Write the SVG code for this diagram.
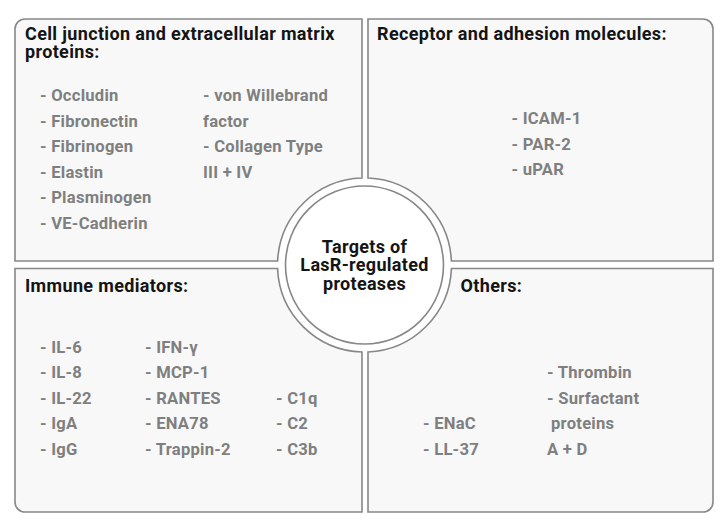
<svg xmlns="http://www.w3.org/2000/svg" width="728" height="529" viewBox="0 0 728 529">
<style>
.panel{fill:#f8f8f8;stroke:#878787;stroke-width:1.6}
.hub{fill:#ffffff;stroke:#878787;stroke-width:1.6}
.h{font-family:Roboto,"Liberation Sans",sans-serif;font-weight:bold;font-size:18px;letter-spacing:0.35px;fill:#141414}
.i{font-family:Roboto,"Liberation Sans",sans-serif;font-weight:bold;font-size:16.6px;letter-spacing:0.25px;fill:#7f7f7f}
.c{font-family:Roboto,"Liberation Sans",sans-serif;font-weight:bold;font-size:18px;letter-spacing:0.3px;fill:#141414;text-anchor:middle}
</style>
<rect width="728" height="529" fill="#ffffff"/>
<g id="cell-junction">
<path class="panel" d="M15 29 A10 10 0 0 1 25 19 L362 19 L362 178.04 A87 87 0 0 0 277.6 261 L15 261 Z"/>
<text class="h" x="25" y="40">Cell junction and extracellular matrix</text>
<text class="h" x="25" y="58">proteins:</text>
<text class="i" x="40" y="101">- Occludin</text>
<text class="i" x="40" y="126.5">- Fibronectin</text>
<text class="i" x="40" y="152">- Fibrinogen</text>
<text class="i" x="40" y="177.5">- Elastin</text>
<text class="i" x="40" y="203">- Plasminogen</text>
<text class="i" x="40" y="228.5">- VE-Cadherin</text>
<text class="i" x="203" y="101">- von Willebrand</text>
<text class="i" x="203" y="126.5">factor</text>
<text class="i" x="203" y="152">- Collagen Type</text>
<text class="i" x="203" y="177.5">III + IV</text>
</g>
<g id="receptor">
<path class="panel" d="M368 19 L703 19 A10 10 0 0 1 713 29 L713 261 L451.4 261 A87 87 0 0 0 368 178.07 Z"/>
<text class="h" x="377" y="40">Receptor and adhesion molecules:</text>
<text class="i" x="511.5" y="124">- ICAM-1</text>
<text class="i" x="511.5" y="149.5">- PAR-2</text>
<text class="i" x="511.5" y="175">- uPAR</text>
</g>
<g id="immune">
<path class="panel" d="M15 268.5 L277.57 268.5 A87 87 0 0 0 362 351.96 L362 512 L25 512 A10 10 0 0 1 15 502 Z"/>
<text class="h" x="25" y="292">Immune mediators:</text>
<text class="i" x="40" y="352.5">- IL-6</text>
<text class="i" x="40" y="378">- IL-8</text>
<text class="i" x="40" y="403.5">- IL-22</text>
<text class="i" x="40" y="429">- IgA</text>
<text class="i" x="40" y="454.5">- IgG</text>
<text class="i" x="145" y="352.5">- IFN-γ</text>
<text class="i" x="145" y="378">- MCP-1</text>
<text class="i" x="145" y="403.5">- RANTES</text>
<text class="i" x="145" y="429">- ENA78</text>
<text class="i" x="145" y="454.5">- Trappin-2</text>
<text class="i" x="276" y="403.5">- C1q</text>
<text class="i" x="276" y="429">- C2</text>
<text class="i" x="276" y="454.5">- C3b</text>
</g>
<g id="others">
<path class="panel" d="M451.43 268.5 L713 268.5 L713 502 A10 10 0 0 1 703 512 L368 512 L368 351.93 A87 87 0 0 0 451.43 268.5 Z"/>
<text class="h" x="460.5" y="292">Others:</text>
<text class="i" x="547" y="378">- Thrombin</text>
<text class="i" x="547" y="403.5">- Surfactant</text>
<text class="i" x="551" y="429">proteins</text>
<text class="i" x="547" y="454.5">A + D</text>
<text class="i" x="423" y="429">- ENaC</text>
<text class="i" x="423" y="454.5">- LL-37</text>
</g>
<g id="hub">
<circle class="hub" cx="364.5" cy="265" r="79"/>
<text class="c" x="364.5" y="252.5">Targets of</text>
<text class="c" x="364.5" y="271">LasR-regulated</text>
<text class="c" x="364.5" y="289.5">proteases</text>
</g>
<g id="connectors"></g>
</svg>
